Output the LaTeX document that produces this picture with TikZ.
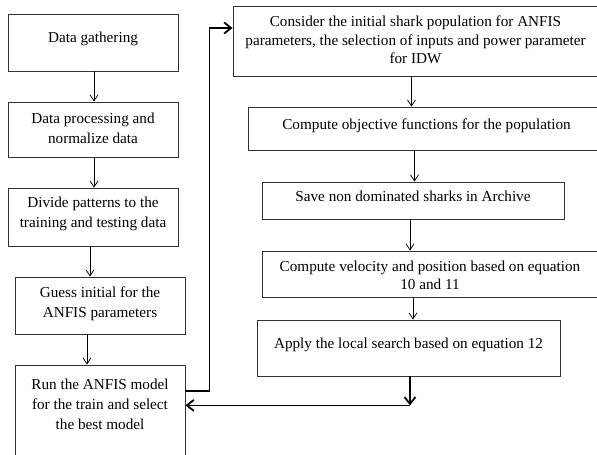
\documentclass[tikz,border=0pt]{standalone}
\usepackage{fontspec}
\setmainfont{Liberation Serif}
\usetikzlibrary{arrows.meta}

\begin{document}
\begin{tikzpicture}[x=1pt, y=-1pt, >={Straight Barb[length=6pt,width=8pt]},
                box/.style={draw=black!80, line width=0.8pt, rectangle, align=center, inner sep=0pt},
                lbox/.style={box, minimum width=170pt, font=\fontsize{15.2}{20}\selectfont},
                rbox/.style={box, font=\fontsize{15.2}{18.3}\selectfont},
                flow/.style={->, line width=0.8pt},
                back/.style={-{Straight Barb[length=7pt,width=11pt]}, line width=1.8pt}]

                \useasboundingbox (0,0) rectangle (597,455);
                \clip (0,0) rectangle (597,455);

                \node[lbox, minimum height=57pt, text height=11pt, text depth=11pt] (gather) at (93,42.5) {Data gathering};
                \node[lbox, minimum height=55pt, text height=32pt, text depth=5pt] (process) at (93,129.5) {Data processing and\\normalize data};
                \node[lbox, minimum height=58pt, text height=26.4pt, text depth=5pt] (divide) at (93,217) {Divide patterns to the\\training and testing data};
                \node[lbox, minimum height=57pt, text height=29.4pt, text depth=5pt] (guess) at (100,305.5) {Guess initial for the\\ANFIS parameters};
                \node[lbox, minimum height=105pt, text height=28pt, text depth=5pt] (run) at (100,417.5) {Run the ANFIS model\\for the train and select\\the best model};

                \node[rbox, minimum width=365pt, minimum height=70pt, text height=49.6pt, text depth=5pt] (consider) at (415.5,41) {Consider the initial shark population for ANFIS\\parameters, the selection of inputs and power parameter\\for IDW};
                \node[rbox, minimum width=357pt, minimum height=43pt, text height=11pt, text depth=9.6pt] (objective) at (426.5,128.5) {Compute objective functions for the population};
                \node[rbox, minimum width=302pt, minimum height=37pt, text height=11pt, text depth=10pt] (archive) at (413,200.5) {Save non dominated sharks in Archive};
                \node[rbox, minimum width=336pt, minimum height=46pt, text height=35.6pt, text depth=5pt] (velocity) at (430,274) {Compute velocity and position based on equation\\10 and 11};
                \node[rbox, minimum width=303pt, minimum height=56pt, text height=11pt, text depth=10pt] (search) at (408.5,348) {Apply the local search based on equation 12};

                \draw[flow] ([xshift=1pt]gather.south) -- ([xshift=1pt]process.north);
                \draw[flow] ([xshift=1pt]process.south) -- ([xshift=1pt]divide.north);
                \draw[flow] ([xshift=-3pt]divide.south) -- ([xshift=-3pt]divide.south |- guess.north);
                \draw[flow] ([xshift=-13pt]guess.south) -- ([xshift=-13pt]run.north);

                \draw[flow] ([xshift=-4pt]consider.south) -- ([xshift=-4pt]consider.south |- objective.north);
                \draw[flow] ([xshift=-12pt]objective.south) -- ([xshift=-12pt]objective.south |- archive.north);
                \draw[flow] ([xshift=-3pt]archive.south) -- ([xshift=-3pt]archive.south |- velocity.north);
                \draw[flow] ([xshift=-17pt]velocity.south) -- ([xshift=-17pt]velocity.south |- search.north);

                \draw[back] ([yshift=26.5pt]run.east) -- ++(24,0) |- ([yshift=13pt]consider.west);
                \draw[back] ([xshift=1.5pt]search.south) -- ++(0,29) coordinate (merge);
                \draw[back] (merge) -- (merge -| run.east);

            \end{tikzpicture}
\end{document}
